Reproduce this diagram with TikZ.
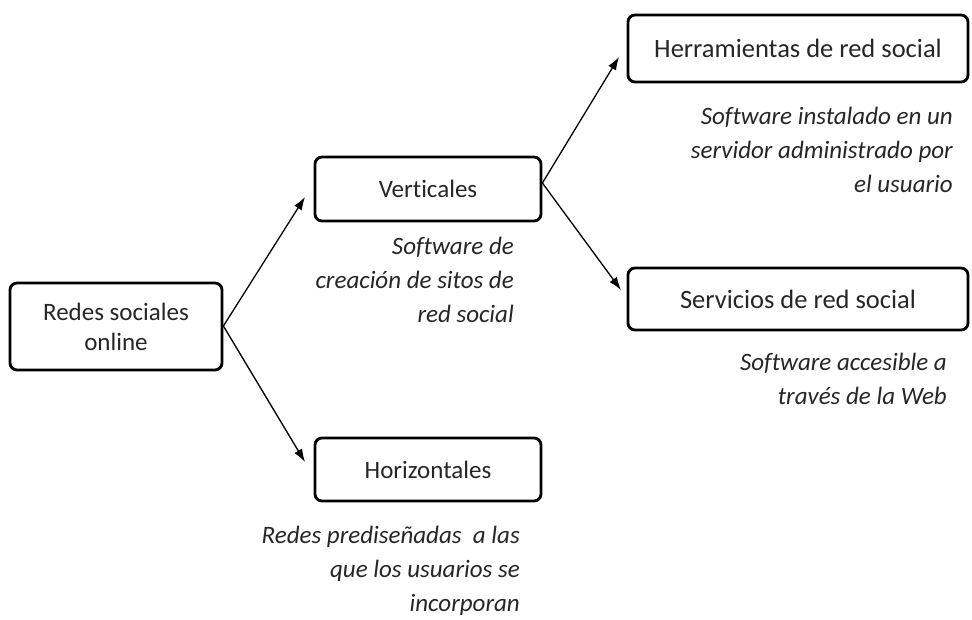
\documentclass[tikz,border=0pt]{standalone}
\usepackage{fontspec}
\setmainfont[Ligatures=NoCommon]{Carlito}
\usetikzlibrary{arrows.meta}
\begin{document}
\begin{tikzpicture}[x=1pt,y=1pt,
  box/.style={draw=black,line width=2.8pt,rounded corners=7pt,fill=white,align=center,
    font=\fontsize{25}{30}\selectfont,text=black!85,inner sep=0pt},
  bigbox/.style={box,font=\fontsize{26.5}{30}\selectfont},
  capt/.style={align=right,font=\fontsize{25}{34}\selectfont\itshape,text=black!85,inner sep=0pt,anchor=east},
  arr/.style={line width=1.3pt,-{Latex[length=13pt,width=9pt]}}]
\useasboundingbox (0,0) rectangle (972,619);
\node[box,minimum width=212pt,minimum height=87pt] (redes) at (116,292.5) {Redes sociales\\online};
\node[box,minimum width=226pt,minimum height=64pt] (vert) at (428,430) {Verticales};
\node[box,minimum width=226pt,minimum height=63pt] (hor) at (428,149.5) {Horizontales};
\node[bigbox,minimum width=340pt,minimum height=67pt] (herr) at (798,570.5) {Herramientas de red social};
\node[bigbox,minimum width=340pt,minimum height=62pt] (serv) at (798,320) {Servicios de red social};
\node[capt] (c1) at (514,339) {Software de\\creación de sitos de\\red social};
\node[capt] (c2) at (953,469) {Software instalado en un\\servidor administrado por\\el usuario};
\node[capt] (c3) at (947,240) {Software accesible a\\través de la Web};
\node[capt] (c4) at (520,48) {Redes prediseñadas\ \ a las\\que los usuarios se\\incorporan};
\coordinate (tv) at (305,422);
\coordinate (th) at (305,157);
\coordinate (the) at (619,562);
\coordinate (ts) at (621,329);
\coordinate (sr) at ([yshift=0.5pt]redes.east);
\coordinate (sv) at ([yshift=6pt]vert.east);
\draw[arr] (sr) -- (tv);
\draw[arr] (sr) -- (th);
\draw[arr] (sv) -- (the);
\draw[arr] (sv) -- (ts);
\end{tikzpicture}
\end{document}
